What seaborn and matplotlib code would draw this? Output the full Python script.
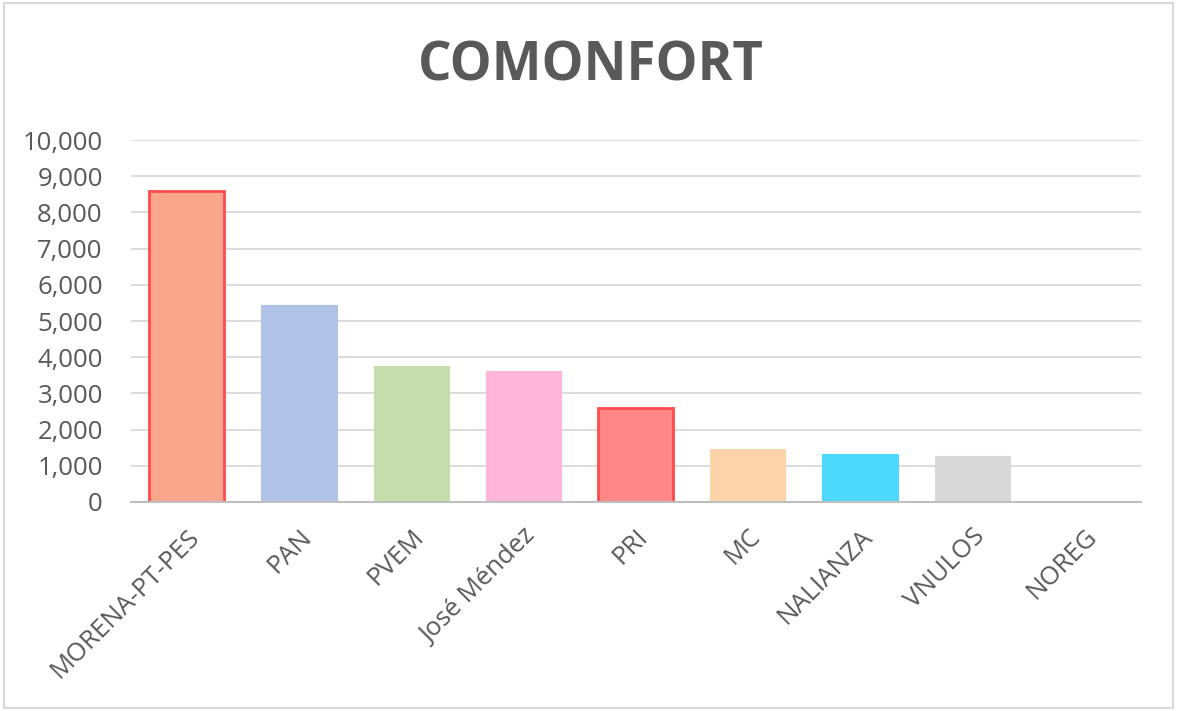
import matplotlib
matplotlib.use('Agg')

import matplotlib.pyplot as plt
import seaborn as sns
import pandas as pd
from matplotlib.ticker import FuncFormatter
from matplotlib.patches import Rectangle

# data
parties = ['MORENA-PT-PES', 'PAN', 'PVEM', 'José Méndez', 'PRI', 'MC',
           'NALIANZA', 'VNULOS', 'NOREG']
votes = [8590, 5440, 3760, 3620, 2600, 1465, 1325, 1270, 10]
fill_colors = ['#F9A68C', '#B0C2E6', '#C5DDAC', '#FDB5DA', '#FF8787',
               '#FDD4A9', '#4DD9FD', '#D9D9D9', '#D9D9D9']
edge_colors = ['#FF4B4B', '#B0C2E6', '#C5DDAC', '#FDB5DA', '#FF4B4B',
               '#FDD4A9', '#4DD9FD', '#D9D9D9', '#D9D9D9']

df = pd.DataFrame({'party': parties, 'votes': votes})

sns.set_style('white')
plt.rcParams['font.family'] = ['Open Sans', 'DejaVu Sans']

fig = plt.figure(figsize=(11.77, 7.11), dpi=100)
ax = fig.add_axes([0.111, 0.294, 0.858, 0.509])

sns.barplot(data=df, x='party', y='votes', hue='party', palette=fill_colors,
            legend=False, width=0.67, saturation=1, ax=ax)

for bar, ec in zip(ax.patches, edge_colors):
    bar.set_edgecolor(ec)
    bar.set_linewidth(2 if ec == '#FF4B4B' else 0.8)

ax.set_ylim(0, 10000)
ax.set_yticks(range(0, 10001, 1000))
ax.yaxis.set_major_formatter(FuncFormatter(lambda v, p: f'{int(v):,}'))
ax.yaxis.grid(True, color='#D9D9D9', linewidth=1.3)
ax.set_axisbelow(True)
ax.set_xlabel('')
ax.set_ylabel('')
for s in ['top', 'right', 'left']:
    ax.spines[s].set_visible(False)
ax.spines['bottom'].set_color('#BFBFBF')
ax.spines['bottom'].set_linewidth(1.5)
ax.tick_params(axis='both', length=0, colors='#595959', labelsize=18.5)
ax.tick_params(axis='y', pad=20)
ax.tick_params(axis='x', pad=16)
plt.setp(ax.get_xticklabels(), rotation=45, ha='right', rotation_mode='anchor')

fig.text(0.502, 0.906, 'COMONFORT', ha='center', va='center', fontsize=38,
         fontweight='bold', color='#595959')

fig.patches.append(Rectangle((0.003, 0.004), 0.994, 0.992, transform=fig.transFigure,
                             fill=False, edgecolor='#D9D9D9', linewidth=1.5))

fig.savefig('out.png', dpi=100)
